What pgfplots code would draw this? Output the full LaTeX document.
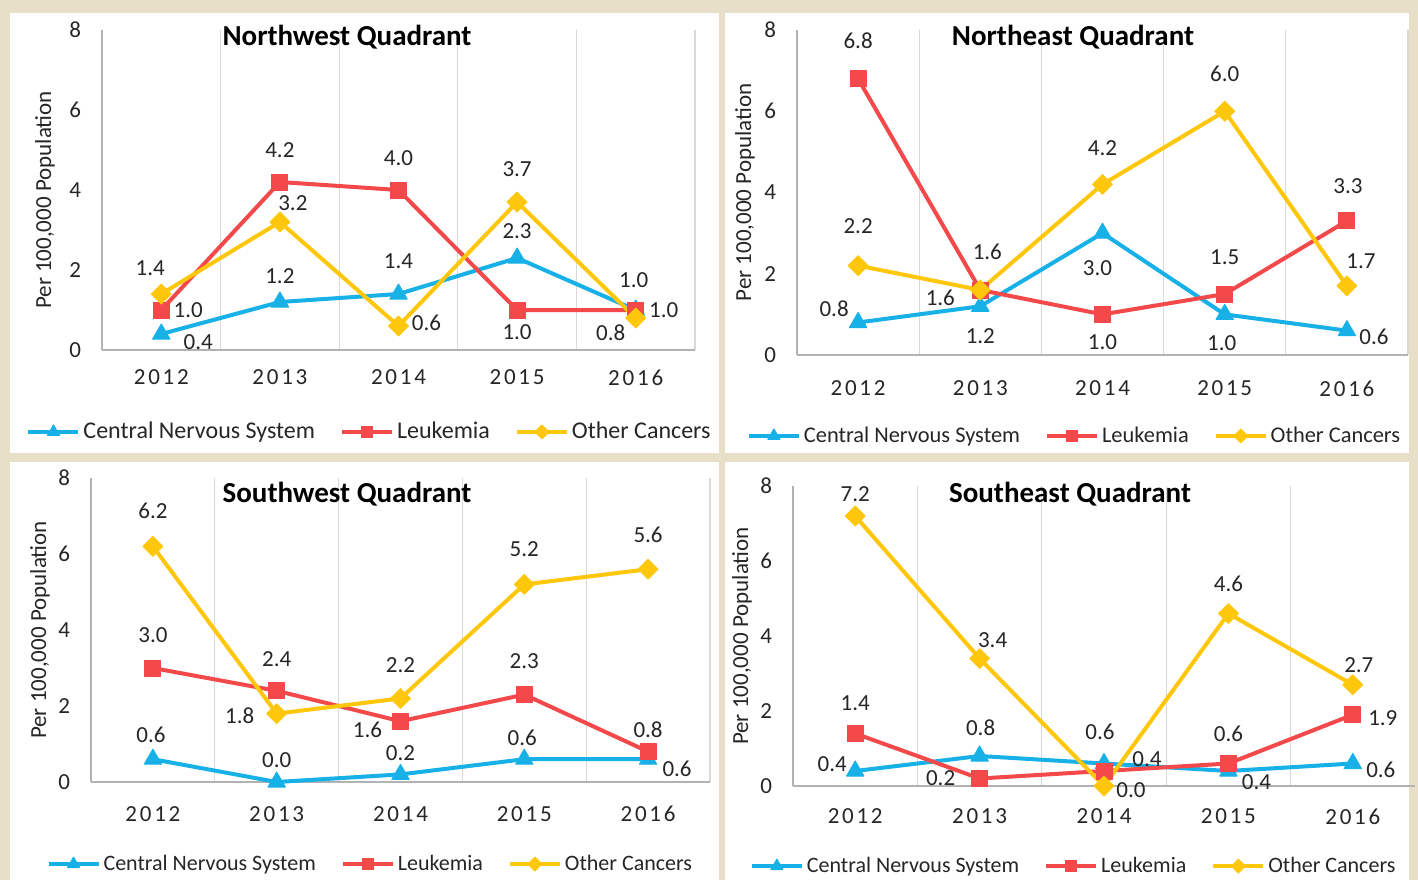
\documentclass[border=0pt]{standalone}
\usepackage{fontspec}
\setmainfont{Carlito}
\usepackage{pgfplots}
\usepackage{pgfplotstable}
\pgfplotsset{compat=1.18}

\definecolor{cns}{HTML}{17B1E8}
\definecolor{leu}{HTML}{F4494B}
\definecolor{oth}{HTML}{FFC70B}
\definecolor{frame}{HTML}{E8DFC9}
\definecolor{grd}{HTML}{D9D9D9}
\definecolor{txt}{HTML}{262626}

% columns: x, value + label offsets (pt) for CNS (c), Leukemia (l), Other (o)
\pgfplotstableread{
x c cx cy l lx ly o ox oy
0 0.4 18.5 -4 1.0 13.5 0 1.4 -5.5 13
1 1.2 0 13 4.2 0 16 3.2 6.5 9.5
2 1.4 0 16.5 4.0 0 16 0.6 14 1.5
3 2.3 0 13.5 1.0 0 -11 3.7 0 16.5
4 1.0 -1 15 1.0 14 0 0.8 -12.5 -7.5
}\nw
\pgfplotstableread{
x c cx cy l lx ly o ox oy
0 0.8 -12 7 6.8 0 19 2.2 0 19.5
1 1.2 0 -15 1.6 -20 -4 1.6 3.5 19
2 3.0 -2.5 -17.5 1.0 0 -14 4.2 0 18
3 1.0 -1.5 -14.5 1.5 0 18.5 6.0 0 18.5
4 0.6 13.5 -3 3.3 0.5 17.5 1.7 7 12.5
}\ne
\pgfplotstableread{
x c cx cy l lx ly o ox oy
0 0.6 -1 12 3.0 0 16.5 6.2 0 18
1 0.0 0 11 2.4 0 16 1.8 -18.5 -1
2 0.2 0 10.5 1.6 -16.5 -4.5 2.2 0 16.5
3 0.6 -1 10.5 2.3 0 16.5 5.2 0 17.5
4 0.6 14.5 -5 0.8 0 11 5.6 0 17
}\sw
\pgfplotstableread{
x c cx cy l lx ly o ox oy
0 0.4 -11.5 3.5 1.4 0 15 7.2 0 11
1 0.8 0.5 14 0.2 -19.5 0 3.4 6.5 9
2 0.6 -2 16 0.4 21.5 6 0.0 13.5 -2
3 0.4 14 -5.5 0.6 0 15 4.6 0 15
4 0.6 14 -3 1.9 15 -1.5 2.7 3 10
}\se

\newcommand{\lblfont}{\fontsize{11.5}{13}\selectfont}

\pgfplotsset{
  /pgf/number format/assume math mode=true,
  quad/.style={
    scale only axis,
    xmin=-0.5, xmax=4.5, ymin=0, ymax=8,
    xtick={0,...,4}, xticklabels={2012,2013,2014,2015,2016},
    ytick={0,2,4,6,8},
    minor xtick={0.5,1.5,2.5,3.5,4.5},
    xminorgrids, minor grid style={grd, line width=0.6pt},
    axis x line*=bottom, axis y line*=left,
    axis line style={black!30, line width=0.7pt},
    major tick length=0pt, minor tick length=0pt,
    tick label style={text=txt},
    yticklabel style={font=\lblfont, xshift=-7pt},
    xticklabel style={font=\lblfont\addfontfeature{LetterSpace=12}},
    ylabel={Per 100,000 Population},
    every axis y label/.style={at={(rel axis cs:0,0.5)}, rotate=90, anchor=center,
      font=\lblfont, text=txt},
    clip=false,
    legend columns=3,
    legend cell align=left,
    legend style={draw=none, fill=none, anchor=center, text=txt,
      /tikz/every even column/.append style={column sep=11pt},
      nodes={inner sep=1.5pt}},
    legend image code/.code={\draw[mark repeat=2,mark phase=2,##1,
      every mark/.append style={scale=0.7}]
      plot coordinates {(0pt,0pt) (12.5pt,0pt) (25pt,0pt)};},
    nodes near coords={\pgfmathprintnumber[fixed,zerofill,precision=1]{\pgfplotspointmeta}},
    every node near coord/.append style={anchor=center, xshift=\dx pt, yshift=\dy pt,
      font=\lblfont, text=txt},
  },
  dep/.style 2 args={visualization depends on={\thisrow{#1}\as\dx},
    visualization depends on={\thisrow{#2}\as\dy}},
  scns/.style={color=cns, line width=2pt, line join=round, mark=triangle*, mark size=5pt,
    mark options={solid, line width=0.5pt}},
  sleu/.style={color=leu, line width=2pt, line join=round, mark=square*, mark size=4pt,
    mark options={solid, line width=0.5pt}},
  soth/.style={color=oth, line width=2pt, line join=round, mark=square*, mark size=3.5pt,
    mark options={solid, rotate=45, line width=0.5pt}},
}

\begin{document}
\begin{tikzpicture}
\fill[frame] (0,0) rectangle (709pt,440pt);
\fill[white] (5pt,213.5pt) rectangle (359.5pt,433.5pt);
\fill[white] (362.5pt,213.5pt) rectangle (704.5pt,433.5pt);
\fill[white] (5pt,0pt) rectangle (359.5pt,209pt);
\fill[white] (362.5pt,0pt) rectangle (704.5pt,209pt);

% Northwest
\begin{axis}[quad, at={(51pt,265pt)}, anchor=south west, width=296.5pt, height=160pt,
  xticklabel style={yshift=-6.5pt},
  ylabel style={yshift=28.5pt, xshift=-5pt},
  legend style={at={(0.452,-0.256)}, font=\fontsize{12}{13}\selectfont}]
\addplot[scns, dep={cx}{cy}] table[x=x, y=c] {\nw};
\addplot[sleu, dep={lx}{ly}] table[x=x, y=l] {\nw};
\addplot[soth, dep={ox}{oy}] table[x=x, y=o] {\nw};
\legend{Central Nervous System, Leukemia, Other Cancers}
\end{axis}

% Northeast
\begin{axis}[quad, at={(398.5pt,262.5pt)}, anchor=south west, width=305.5pt, height=162.5pt,
  xticklabel style={yshift=-9.5pt},
  ylabel style={yshift=26pt},
  legend style={at={(0.455,-0.249)}, font=\fontsize{11.2}{13}\selectfont}]
\addplot[scns, dep={cx}{cy}] table[x=x, y=c] {\ne};
\addplot[sleu, dep={lx}{ly}] table[x=x, y=l] {\ne};
\addplot[soth, dep={ox}{oy}] table[x=x, y=o] {\ne};
\legend{Central Nervous System, Leukemia, Other Cancers}
\end{axis}

% Southwest
\begin{axis}[quad, at={(45.5pt,49pt)}, anchor=south west, width=309.5pt, height=152pt,
  xticklabel style={yshift=-8.5pt},
  ylabel style={yshift=25.5pt},
  legend style={at={(0.452,-0.27)}, font=\fontsize{11}{13}\selectfont}]
\addplot[scns, dep={cx}{cy}] table[x=x, y=c] {\sw};
\addplot[sleu, dep={lx}{ly}] table[x=x, y=l] {\sw};
\addplot[soth, dep={ox}{oy}] table[x=x, y=o] {\sw};
\legend{Central Nervous System, Leukemia, Other Cancers}
\end{axis}

% Southeast
\begin{axis}[quad, at={(396.5pt,47pt)}, anchor=south west, width=311pt, height=150pt,
  minor xtick={0.5,1.5,2.5,3.5},
  xticklabel style={yshift=-8pt},
  ylabel style={yshift=25.5pt},
  legend style={at={(0.452,-0.267)}, font=\fontsize{11}{13}\selectfont}]
\addplot[scns, dep={cx}{cy}] table[x=x, y=c] {\se};
\addplot[sleu, dep={lx}{ly}] table[x=x, y=l] {\se};
\addplot[soth, dep={ox}{oy}] table[x=x, y=o] {\se};
\legend{Central Nervous System, Leukemia, Other Cancers}
\end{axis}

\begin{scope}[every node/.style={font=\fontsize{14.5}{16}\selectfont\bfseries, text=black}]
\node at (173.5pt,421.5pt) {Northwest Quadrant};
\node at (536.5pt,421.5pt) {Northeast Quadrant};
\node at (173.5pt,193pt) {Southwest Quadrant};
\node at (535pt,193pt) {Southeast Quadrant};
\end{scope}

\pgfresetboundingbox
\path (0,0) rectangle (709pt,440pt);
\end{tikzpicture}
\end{document}
